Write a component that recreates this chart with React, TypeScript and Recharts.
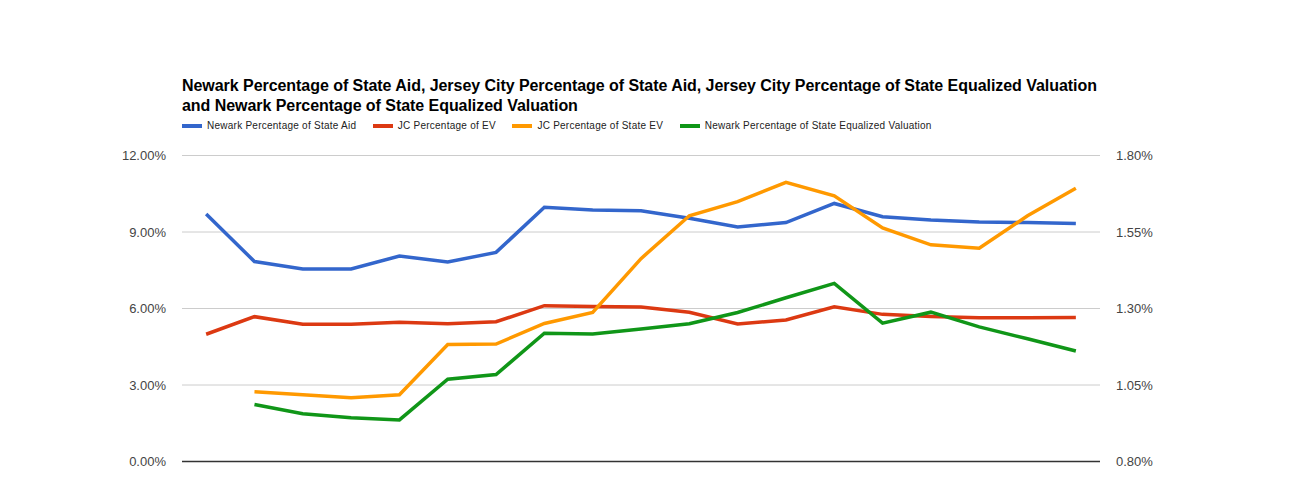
import { LineChart, Line, XAxis, YAxis, CartesianGrid, ReferenceLine } from "recharts";

// x positions carry no labels in the original chart
const periods = ["1", "2", "3", "4", "5", "6", "7", "8", "9", "10", "11", "12", "13", "14", "15", "16", "17", "18", "19"];

// left axis (%)
const newarkStateAid = [9.71, 7.84, 7.55, 7.55, 8.06, 7.82, 8.2, 9.97, 9.86, 9.83, 9.54, 9.2, 9.37, 10.12, 9.6, 9.47, 9.39, 9.37, 9.33];
const jcPctEv = [4.99, 5.68, 5.38, 5.38, 5.46, 5.4, 5.48, 6.11, 6.08, 6.06, 5.85, 5.39, 5.55, 6.07, 5.77, 5.69, 5.64, 5.64, 5.65];

// right axis (%)
const jcPctStateEv = [null, 1.028, 1.018, 1.008, 1.018, 1.182, 1.184, 1.251, 1.287, 1.463, 1.603, 1.649, 1.712, 1.668, 1.563, 1.508, 1.497, 1.603, 1.693];
const newarkPctStateEv = [null, 0.986, 0.956, 0.943, 0.936, 1.069, 1.084, 1.219, 1.217, 1.233, 1.25, 1.287, 1.335, 1.382, 1.252, 1.288, 1.24, 1.201, 1.161];

const leftTicks = [0, 3, 6, 9, 12];
const rightTicks = [0.8, 1.05, 1.3, 1.55, 1.8];

const title =
  "Newark Percentage of State Aid, Jersey City Percentage of State Aid, Jersey City Percentage of State Equalized Valuation and Newark Percentage of State Equalized Valuation";

const series = [
  { key: "newarkStateAid", name: "Newark Percentage of State Aid", color: "#3366cc", axis: "left" },
  { key: "jcPctEv", name: "JC Percentage of EV", color: "#dc3912", axis: "left" },
  { key: "jcPctStateEv", name: "JC Percentage of State EV", color: "#ff9900", axis: "right" },
  { key: "newarkPctStateEv", name: "Newark Percentage of State Equalized Valuation", color: "#109618", axis: "right" },
];

const data = periods.map((p, i) => ({
  period: p,
  newarkStateAid: newarkStateAid[i],
  jcPctEv: jcPctEv[i],
  jcPctStateEv: jcPctStateEv[i],
  newarkPctStateEv: newarkPctStateEv[i],
}));

const font = "Arial, 'Liberation Sans', sans-serif";
const tick = { fontSize: 13, fill: "#444", fontFamily: font };

export default function App() {
  return (
    <div style={{ position: "relative", width: 1290, height: 498, background: "#fff" }}>
      <style>{"body{margin:0}"}</style>
      <div
        style={{
          position: "absolute",
          left: 182,
          top: 76,
          width: 930,
          fontFamily: font,
          fontSize: 16,
          fontWeight: "bold",
          lineHeight: "20px",
          letterSpacing: -0.05,
          color: "#000",
        }}
      >
        {title}
      </div>
      <div
        style={{
          position: "absolute",
          left: 182,
          top: 120,
          display: "flex",
          alignItems: "center",
          fontFamily: font,
          fontSize: 10,
          letterSpacing: 0.25,
          color: "#222",
          whiteSpace: "nowrap",
        }}
      >
        {series.map((s) => (
          <div key={s.key} style={{ display: "flex", alignItems: "center", marginRight: 16.5 }}>
            <span style={{ display: "inline-block", width: 20, height: 4, background: s.color, marginRight: 5 }} />
            <span>{s.name}</span>
          </div>
        ))}
      </div>
      <LineChart
        width={1290}
        height={498}
        data={data}
        margin={{ top: 155.5, right: 110, bottom: 36.5, left: 102 }}
      >
        <CartesianGrid vertical={false} stroke="#ccc" yAxisId="left" />
        <XAxis
          dataKey="period"
          tick={false}
          tickLine={false}
          axisLine={false}
          height={0}
          padding={{ left: 24.15, right: 24.15 }}
        />
        <YAxis
          yAxisId="left"
          domain={[0, 12]}
          ticks={leftTicks}
          tickFormatter={(v) => `${Number(v).toFixed(2)}%`}
          axisLine={false}
          tickLine={false}
          tickMargin={10}
          width={80}
          tick={tick}
        />
        <YAxis
          yAxisId="right"
          orientation="right"
          domain={[0.8, 1.8]}
          ticks={rightTicks}
          tickFormatter={(v) => `${Number(v).toFixed(2)}%`}
          axisLine={false}
          tickLine={false}
          tickMargin={10}
          width={80}
          tick={tick}
        />
        <ReferenceLine yAxisId="left" y={0} stroke="#333" strokeWidth={1.5} />
        {series.map((s) => (
          <Line
            key={s.key}
            yAxisId={s.axis}
            type="linear"
            dataKey={s.key}
            name={s.name}
            stroke={s.color}
            strokeWidth={3.5}
            dot={false}
            activeDot={false}
            isAnimationActive={false}
          />
        ))}
      </LineChart>
    </div>
  );
}
